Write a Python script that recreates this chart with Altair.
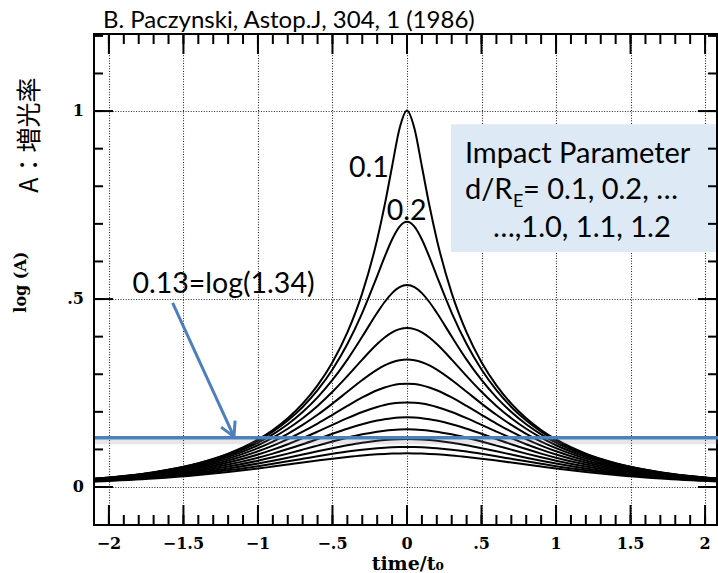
import altair as alt
import pandas as pd

# ---------------- data ----------------
t_half = [0, 0.05, 0.1, 0.15, 0.2, 0.3, 0.4, 0.5, 0.6, 0.7, 0.8, 0.9, 1.0, 1.2, 1.4, 1.7, 2.15]

impact_params = [0.1, 0.2, 0.3, 0.4, 0.5, 0.6, 0.7, 0.8, 0.9, 1.0, 1.1, 1.2]

logA_01 = [1.0016, 0.9536, 0.8527, 0.7493, 0.6585, 0.5158, 0.4112, 0.3319, 0.2704, 0.2219, 0.1831, 0.1518, 0.1265, 0.0889, 0.0636, 0.0396, 0.0207]
logA_02 = [0.7054, 0.6927, 0.6585, 0.6121, 0.5612, 0.4634, 0.3803, 0.3124, 0.2575, 0.2129, 0.1768, 0.1473, 0.1231, 0.0871, 0.0625, 0.0390, 0.0205]
logA_03 = [0.5372, 0.5316, 0.5158, 0.4922, 0.4634, 0.4002, 0.3390, 0.2847, 0.2384, 0.1995, 0.1671, 0.1402, 0.1179, 0.0841, 0.0607, 0.0382, 0.0202]
logA_04 = [0.4229, 0.4199, 0.4112, 0.3976, 0.3803, 0.3390, 0.2952, 0.2534, 0.2158, 0.1831, 0.1550, 0.1312, 0.1111, 0.0801, 0.0584, 0.0370, 0.0198]
logA_05 = [0.3390, 0.3372, 0.3319, 0.3235, 0.3124, 0.2847, 0.2534, 0.2219, 0.1921, 0.1652, 0.1416, 0.1210, 0.1033, 0.0755, 0.0555, 0.0356, 0.0192]
logA_06 = [0.2750, 0.2739, 0.2704, 0.2649, 0.2575, 0.2384, 0.2158, 0.1921, 0.1689, 0.1473, 0.1276, 0.1102, 0.0950, 0.0704, 0.0524, 0.0341, 0.0186]
logA_07 = [0.2250, 0.2242, 0.2219, 0.2180, 0.2129, 0.1995, 0.1831, 0.1652, 0.1473, 0.1300, 0.1139, 0.0994, 0.0864, 0.0651, 0.0490, 0.0323, 0.0179]
logA_08 = [0.1853, 0.1847, 0.1831, 0.1803, 0.1768, 0.1671, 0.1550, 0.1416, 0.1276, 0.1139, 0.1010, 0.0889, 0.0780, 0.0597, 0.0455, 0.0304, 0.0171]
logA_09 = [0.1534, 0.1530, 0.1518, 0.1499, 0.1473, 0.1402, 0.1312, 0.1210, 0.1102, 0.0994, 0.0889, 0.0791, 0.0700, 0.0544, 0.0420, 0.0285, 0.0163]
logA_10 = [0.1276, 0.1274, 0.1265, 0.1251, 0.1231, 0.1179, 0.1111, 0.1033, 0.0950, 0.0864, 0.0780, 0.0700, 0.0625, 0.0492, 0.0385, 0.0266, 0.0155]
logA_11 = [0.1067, 0.1065, 0.1058, 0.1048, 0.1033, 0.0994, 0.0943, 0.0883, 0.0818, 0.0750, 0.0683, 0.0618, 0.0555, 0.0444, 0.0352, 0.0247, 0.0146]
logA_12 = [0.0896, 0.0894, 0.0889, 0.0881, 0.0871, 0.0841, 0.0801, 0.0755, 0.0704, 0.0651, 0.0597, 0.0544, 0.0492, 0.0399, 0.0320, 0.0228, 0.0138]

curve_values = [logA_01, logA_02, logA_03, logA_04, logA_05, logA_06,
                logA_07, logA_08, logA_09, logA_10, logA_11, logA_12]

threshold_y = [0.131]              # 0.13 = log(1.34)
arrow_x = [-1.5725, -1.161]        # arrow start -> tip
arrow_y = [0.490, 0.134]

x_grid = [-2, -1.5, -1, -0.5, 0, 0.5, 1, 1.5, 2]
y_grid = [0, 0.5, 1]
x_tick_labels = ["\u22122", "\u22121.5", "\u22121", "\u2212.5", "0", ".5", "1", "1.5", "2"]
y_tick_labels = ["0", ".5", "1"]

box_x = [0.295, 2.073]
box_y = [0.625, 0.965]

# ---------------- layout ----------------
W, H = 623, 491
X_DOM = [-2.10, 2.08]
Y_DOM = [-0.101, 1.205]
xs = alt.Scale(domain=X_DOM, nice=False, zero=False)
ys = alt.Scale(domain=Y_DOM, nice=False, zero=False)
BLUE = "#4d7fbd"
SERIF = "DejaVu Serif"
SANS = "Lato"

x_minor = [round(-2 + 0.1 * i, 1) for i in range(41)]
y_minor = [round(0.1 * i, 1) for i in range(13)]

rows = []
for d, vals in zip(impact_params, curve_values):
    for t, v in zip(t_half, vals):
        rows.append({"d": d, "t": t, "logA": v})
        if t != 0:
            rows.append({"d": d, "t": -t, "logA": v})
curves_df = pd.DataFrame(rows)


def X(field="x"):
    return alt.X(f"{field}:Q", scale=xs, axis=None)


def Y(field="y"):
    return alt.Y(f"{field}:Q", scale=ys, axis=None)


# dotted grid from the library's axes (own, independently resolved layer)
grid_x_axis = alt.Axis(values=x_grid, ticks=False, labels=False, domain=False, grid=True,
                       gridColor="black", gridDash=[1, 1.6], gridWidth=1.1, gridOpacity=0.85, title=None)
grid_y_axis = alt.Axis(values=y_grid, ticks=False, labels=False, domain=False, grid=True,
                       gridColor="black", gridDash=[1, 1.6], gridWidth=1.1, gridOpacity=0.85, title=None)
grid_layer = alt.Chart(pd.DataFrame({"x": [X_DOM[0]], "y": [Y_DOM[0]]})).mark_point(opacity=0, size=0).encode(
    x=alt.X("x:Q", scale=xs, axis=grid_x_axis), y=alt.Y("y:Q", scale=ys, axis=grid_y_axis))
axes = alt.layer(grid_layer).resolve_axis(x="independent", y="independent")


# inward frame ticks: symbols whose custom path is a short stroke from the frame inward;
# a path of length 2 units is drawn sqrt(size) pixels long, so size = length**2
def tick_layer(xv, yv, lengths, path):
    df = pd.DataFrame({"x": xv, "y": yv, "sz": [L * L for L in lengths]})
    return alt.Chart(df).mark_point(
        shape=path, filled=False, strokeWidth=2, color="black", opacity=1
    ).encode(x=X(), y=Y(), size=alt.Size("sz:Q", scale=None, legend=None))


xt_vals = x_minor + x_grid
xt_lens = [10] * len(x_minor) + [20] * len(x_grid)
yt_vals = y_minor + y_grid
yt_lens = [9] * len(y_minor) + [19] * len(y_grid)

tick_bottom = tick_layer(xt_vals, [Y_DOM[0]] * len(xt_vals), xt_lens, "M 0 0 L 0 -2")
tick_top = tick_layer(xt_vals, [Y_DOM[1]] * len(xt_vals), xt_lens, "M 0 0 L 0 2")
tick_left = tick_layer([X_DOM[0]] * len(yt_vals), yt_vals, yt_lens, "M 0 0 L 2 0")
tick_right = tick_layer([X_DOM[1]] * len(yt_vals), yt_vals, yt_lens, "M 0 0 L -2 0")

# annotation box
box = alt.Chart(pd.DataFrame({"x": [box_x[0]], "x2": [box_x[1]], "y": [box_y[0]], "y2": [box_y[1]]})).mark_rect(
    fill="#dde9f4"
).encode(x=X(), x2="x2:Q", y=Y(), y2="y2:Q")

# light curves
lines = alt.Chart(curves_df).mark_line(
    color="black", strokeWidth=2, interpolate="monotone", clip=True
).encode(x=X("t"), y=Y("logA"), detail="d:N", order="t:Q")

# blue threshold line with a soft shadow
thr_df = pd.DataFrame({"y": threshold_y})
thr_shadow = alt.Chart(thr_df).mark_rule(color="gray", strokeWidth=5, opacity=0.2, yOffset=4).encode(
    y=Y(), x=alt.value(1), x2=alt.value(W + 1))
thr = alt.Chart(thr_df).mark_rule(color=BLUE, strokeWidth=3.5).encode(
    y=Y(), x=alt.value(1), x2=alt.value(W + 1))

# arrow
arrow_line = alt.Chart(pd.DataFrame({"x": arrow_x, "y": arrow_y, "o": [0, 1]})).mark_line(
    color=BLUE, strokeWidth=3
).encode(x=X(), y=Y(), order="o:Q")
arrow_head = alt.Chart(pd.DataFrame({"x": [arrow_x[1]], "y": [arrow_y[1]]})).mark_point(
    shape="M -0.55 -1 L 0 0 L 0.55 -1", filled=False, strokeWidth=3, size=784,
    angle=335.4, color=BLUE, opacity=1
).encode(x=X(), y=Y())


# texts
def texts(xv, yv, labels, **kw):
    df = pd.DataFrame({"x": xv, "y": yv, "label": labels})
    return alt.Chart(df).mark_text(**kw).encode(x=X(), y=Y(), text="label:N")


ann_center = texts(
    [-1.231, -0.255, -0.003],
    [0.516, 0.8245, 0.710],
    ["0.13=log(1.34)", "0.1", "0.2"],
    font=SANS, fontSize=28.5, color="black", align="center", baseline="alphabetic",
)
ann_left = texts(
    [0.389, 0.389, 0.577],
    [0.8617, 0.766, 0.665],
    ["Impact Parameter", "d/R", "\u2026,1.0, 1.1, 1.2"],
    font=SANS, fontSize=29, color="black", align="left", baseline="alphabetic",
)
ann_sub = texts([0.712], [0.745], ["E"], font=SANS, fontSize=18, color="black",
                align="left", baseline="alphabetic")
ann_eq = texts([0.778], [0.766], ["= 0.1, 0.2, \u2026"], font=SANS, fontSize=29, color="black",
               align="left", baseline="alphabetic")

title = texts([-2.040], [1.2207], ["B. Paczynski, Astop.J, 304, 1 (1986)"], font=SANS, fontSize=24,
              color="black", align="left", baseline="alphabetic")

ylab1 = texts([-2.590], [0.545], ["log (A)"], font=SERIF, fontWeight="bold", fontSize=16,
              color="black", align="center", baseline="middle", angle=270)
ylab2 = texts([-2.53], [0.936], ["A\uff1a\u5897\u5149\u7387"], font="Noto Sans CJK JP", fontSize=25,
              color="black", align="center", baseline="middle", angle=270)

xt = alt.Chart(pd.DataFrame({"x": x_grid, "label": x_tick_labels})).mark_text(
    font=SERIF, fontWeight="bold", fontSize=16, color="black", baseline="top", align="center"
).encode(x=X(), y=alt.value(H + 11), text="label:N")
yt = alt.Chart(pd.DataFrame({"y": y_grid, "label": y_tick_labels})).mark_text(
    font=SERIF, fontWeight="bold", fontSize=16, color="black", baseline="middle", align="right"
).encode(y=Y(), x=alt.value(-10), text="label:N")
xtitle = texts([0.005], [-0.221], ["time/t\u2080"], font=SERIF, fontWeight="bold", fontSize=19,
               color="black", align="center", baseline="alphabetic")

marks = alt.layer(
    box, lines, tick_bottom, tick_top, tick_left, tick_right, thr_shadow, thr, arrow_line, arrow_head,
    ann_center, ann_left, ann_sub, ann_eq, title, ylab1, ylab2, xt, yt, xtitle,
)

chart = alt.layer(axes, marks).resolve_axis(x="independent", y="independent").properties(
    width=W, height=H,
    padding={"left": 94, "top": 34, "right": 1, "bottom": 48},
    autosize=alt.AutoSizeParams(type="none"),
    background="white",
).configure_view(stroke="black", strokeWidth=2)

chart.save("out.html", embed_options={"renderer": "svg", "actions": False})
